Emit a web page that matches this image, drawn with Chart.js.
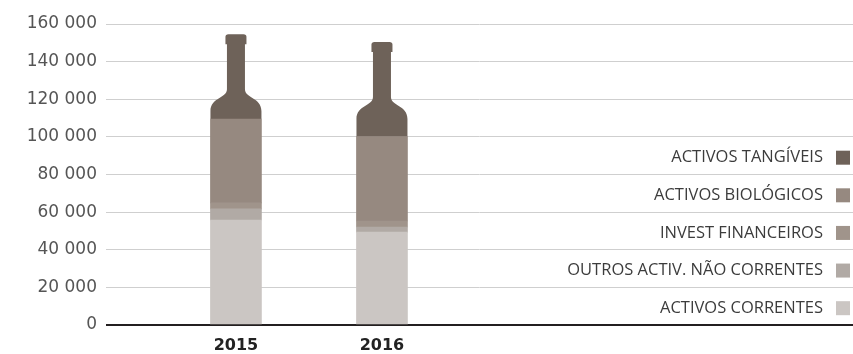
<!DOCTYPE html>
<html lang="pt">
<head>
<meta charset="utf-8">
<title>Activos 2015-2016</title>
<script src="https://cdn.jsdelivr.net/npm/chart.js@4/dist/chart.umd.min.js"></script>
<style>
    html, body { margin: 0; padding: 0; background: #fff; }
    #wrap { width: 853px; height: 354px; position: relative; }
</style>
</head>
<body>
<div id="wrap"><canvas id="grafActivos"></canvas></div>
<script>
const anos = ['2015', '2016'];

const activosCorrentes = [55800, 49400];
const outrosNaoCorrentes = [5900, 2700];
const investFinanceiros = [3200, 3200];
const activosBiologicos = [44600, 44800];
const activosTangiveis = [45000, 50300];

const yTicks = [0, 20000, 40000, 60000, 80000, 100000, 120000, 140000, 160000];

const series = [
    { label: 'ACTIVOS CORRENTES', data: activosCorrentes, cor: '#cbc6c3' },
    { label: 'OUTROS ACTIV. NÃO CORRENTES', data: outrosNaoCorrentes, cor: '#b1aaa5' },
    { label: 'INVEST FINANCEIROS', data: investFinanceiros, cor: '#a0948b' },
    { label: 'ACTIVOS BIOLÓGICOS', data: activosBiologicos, cor: '#968980' },
    { label: 'ACTIVOS TANGÍVEIS', data: activosTangiveis, cor: '#6e6259', garrafa: true },
];

function formatarMilhares(v) {
    return String(v).replace(/\B(?=(\d{3})+(?!\d))/g, ' ');
}

// top segment is drawn as the neck and shoulders of a wine bottle
const garrafaPlugin = {
    id: 'garrafa',
    beforeDatasetDraw(chart, args) {
        const ds = chart.data.datasets[args.index];
        if (!ds.garrafa) return;
        const ctx = chart.ctx;
        ctx.save();
        ctx.fillStyle = ds.backgroundColor;
        args.meta.data.forEach(el => {
            const { x, y, base, width } = el.getProps(['x', 'y', 'base', 'width'], true);
            const bw = width / 2, nw = 9, lw = 10.5, lh = 10;
            const yN = y + 55, yS = Math.min(y + 77, base);
            ctx.beginPath();
            ctx.moveTo(x - bw, base);
            ctx.lineTo(x - bw, yS);
            ctx.bezierCurveTo(x - bw, yS - 14, x - nw, yN + 9, x - nw, yN);
            ctx.lineTo(x - nw, y + lh);
            ctx.lineTo(x - lw, y + lh);
            ctx.lineTo(x - lw, y + 2.5);
            ctx.quadraticCurveTo(x - lw, y, x - lw + 3, y);
            ctx.lineTo(x + lw - 3, y);
            ctx.quadraticCurveTo(x + lw, y, x + lw, y + 2.5);
            ctx.lineTo(x + lw, y + lh);
            ctx.lineTo(x + nw, y + lh);
            ctx.lineTo(x + nw, yN);
            ctx.bezierCurveTo(x + nw, yN + 9, x + bw, yS - 14, x + bw, yS);
            ctx.lineTo(x + bw, base);
            ctx.closePath();
            ctx.fill();
        });
        ctx.restore();
        return false;
    }
};

// legend on the right: text right-aligned, colour square after it
const legendaPlugin = {
    id: 'legendaDireita',
    afterDraw(chart) {
        const ctx = chart.ctx;
        const yScale = chart.scales.y;
        const direita = chart.chartArea.right;
        ctx.save();
        ctx.font = '16.5px "Open Sans"';
        ctx.textAlign = 'right';
        ctx.textBaseline = 'middle';
        const itens = chart.data.datasets.slice().reverse();
        itens.forEach((ds, i) => {
            const topo = yTicks[yTicks.length - 4 - i];
            const meio = (yScale.getPixelForValue(topo) + yScale.getPixelForValue(topo - 20000)) / 2 + 2;
            ctx.fillStyle = '#3c3c3c';
            ctx.fillText(ds.label, direita - 30, meio);
            ctx.fillStyle = ds.backgroundColor;
            ctx.fillRect(direita - 17, meio - 7, 14, 14);
        });
        ctx.restore();
    }
};

new Chart(document.getElementById('grafActivos'), {
    type: 'bar',
    data: {
        datasets: series.map(s => ({
            label: s.label,
            data: s.data.map((v, i) => ({ x: i, y: v })),
            backgroundColor: s.cor,
            borderWidth: 0,
            barThickness: 51,
            garrafa: !!s.garrafa,
        }))
    },
    options: {
        responsive: true,
        maintainAspectRatio: false,
        animation: false,
        layout: { padding: { top: 24, right: 0, left: 0, bottom: 0 } },
        plugins: {
            legend: { display: false },
            tooltip: { enabled: false },
        },
        scales: {
            x: {
                type: 'linear',
                stacked: true,
                offset: false,
                min: -0.89,
                max: 4.226,
                afterBuildTicks(scale) {
                    scale.ticks = anos.map((a, i) => ({ value: i }));
                },
                afterFit(scale) { scale.height = 29; },
                grid: { display: false, drawTicks: false, offset: false },
                border: { display: false },
                ticks: {
                    padding: 11,
                    color: '#222',
                    font: { family: '"DejaVu Sans"', size: 16, weight: 'bold' },
                    callback: v => anos[v],
                },
            },
            y: {
                stacked: true,
                min: 0,
                max: 160000,
                afterBuildTicks(scale) {
                    scale.ticks = yTicks.map(v => ({ value: v }));
                },
                afterFit(scale) { scale.width = 106; },
                border: { display: false },
                grid: {
                    drawTicks: false,
                    color: c => c.tick.value === 0 ? '#231f20' : '#cfcfcf',
                    lineWidth: c => c.tick.value === 0 ? 2 : 1,
                },
                ticks: {
                    padding: 9,
                    color: '#555',
                    font: { family: '"DejaVu Sans"', size: 17 },
                    callback: v => formatarMilhares(v),
                },
            },
        },
    },
    plugins: [garrafaPlugin, legendaPlugin],
});
</script>
</body>
</html>
